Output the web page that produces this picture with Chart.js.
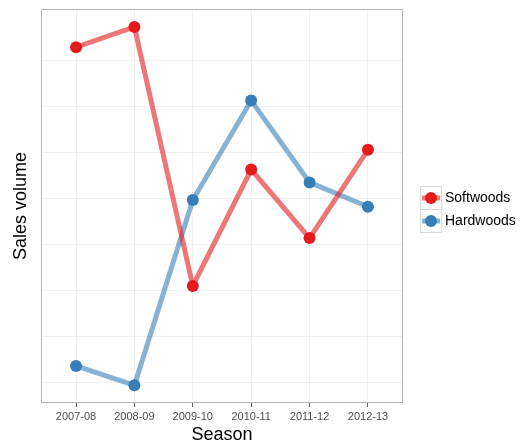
<!DOCTYPE html>
<html>
<head>
<meta charset="utf-8">
<script src="https://cdn.jsdelivr.net/npm/chart.js@4.4.1/dist/chart.umd.min.js"></script>
<style>
  body { margin: 0; background: #fff; }
  #wrap { width: 520px; height: 446px; }
</style>
</head>
<body>
<div id="wrap"><canvas id="myChart" width="520" height="446"></canvas></div>
<script>
// DATOS
const seasons = ["2007-08", "2008-09", "2009-10", "2010-11", "2011-12", "2012-13"];
const softwoods = [8.30, 8.74, 3.11, 5.64, 4.15, 6.07];
const hardwoods = [1.37, 0.95, 4.98, 7.14, 5.36, 4.83];
const yGrid = [1, 2, 3, 4, 5, 6, 7, 8];

const rojo = "#e41a1c";
const azul = "#377eb8";

// borde del panel
const panelBorder = {
  id: "panelBorder",
  afterDraw(chart) {
    const { ctx, chartArea: a } = chart;
    ctx.save();
    ctx.strokeStyle = "#b5b5b5";
    ctx.lineWidth = 1;
    ctx.strokeRect(a.left + 0.5, a.top + 0.5, a.right - a.left - 1, a.bottom - a.top - 1);
    ctx.restore();
  },
};

// leyenda estilo ggplot
const leyenda = {
  id: "leyenda",
  afterDraw(chart) {
    const ctx = chart.ctx;
    const x0 = 420, y0 = 186, w = 21, h = 23;
    ctx.save();
    chart.data.datasets.forEach((ds, i) => {
      const y = y0 + i * h;
      ctx.fillStyle = "#ffffff";
      ctx.fillRect(x0, y, w, h);
      ctx.strokeStyle = "#d9d9d9";
      ctx.lineWidth = 1;
      ctx.strokeRect(x0 + 0.5, y + 0.5, w, h);
      const cy = y + h / 2 + 0.5;
      ctx.strokeStyle = ds.borderColor;
      ctx.lineWidth = 5;
      ctx.beginPath();
      ctx.moveTo(x0 + 2, cy);
      ctx.lineTo(x0 + w - 1, cy);
      ctx.stroke();
      ctx.fillStyle = ds.pointBackgroundColor;
      ctx.beginPath();
      ctx.arc(x0 + w / 2 + 0.5, cy, 6, 0, Math.PI * 2);
      ctx.fill();
      ctx.fillStyle = "#000000";
      ctx.font = "14px 'Liberation Sans', Arial, sans-serif";
      ctx.textBaseline = "middle";
      ctx.fillText(ds.label, x0 + w + 4, cy);
    });
    ctx.restore();
  },
};

const data = {
  datasets: [
    {
      label: "Softwoods",
      data: softwoods.map((v, i) => ({ x: i, y: v })),
      borderColor: "rgba(228,26,28,0.6)",
      borderWidth: 5,
      pointBackgroundColor: rojo,
      pointBorderColor: rojo,
      pointRadius: 6,
      pointBorderWidth: 0,
      tension: 0,
    },
    {
      label: "Hardwoods",
      data: hardwoods.map((v, i) => ({ x: i, y: v })),
      borderColor: "rgba(55,126,184,0.6)",
      borderWidth: 5,
      pointBackgroundColor: azul,
      pointBorderColor: azul,
      pointRadius: 6,
      pointBorderWidth: 0,
      tension: 0,
    },
  ],
};

const config = {
  type: "line",
  data: data,
  plugins: [panelBorder, leyenda],
  options: {
    responsive: false,
    animation: false,
    layout: { padding: { left: 0, top: 9, right: 117, bottom: 0 } },
    plugins: {
      legend: { display: false },
      tooltip: { enabled: false },
    },
    scales: {
      x: {
        type: "linear",
        min: -0.6,
        max: seasons.length - 1 + 0.6,
        afterBuildTicks: (scale) => {
          scale.ticks = seasons.map((s, i) => ({ value: i }));
        },
        afterFit: (scale) => {
          scale.height = 43;
        },
        border: { display: false },
        grid: {
          color: "#f0f0f0",
          tickColor: "#666666",
          tickLength: 4,
        },
        ticks: {
          callback: (v) => seasons[v],
          color: "#4d4d4d",
          font: { family: "'Liberation Sans', Arial, sans-serif", size: 11 },
          padding: 3,
          maxRotation: 0,
          autoSkip: false,
        },
        title: {
          display: true,
          text: "Season",
          color: "#000000",
          font: { family: "'Liberation Sans', Arial, sans-serif", size: 18 },
          padding: { top: 0, bottom: 0 },
        },
      },
      y: {
        min: 0.565,
        max: 9.13,
        afterBuildTicks: (scale) => {
          scale.ticks = yGrid.map((v) => ({ value: v }));
        },
        afterFit: (scale) => {
          scale.width = 41;
        },
        border: { display: false },
        grid: {
          color: "#f0f0f0",
          drawTicks: false,
        },
        ticks: { display: false },
        title: {
          display: true,
          text: "Sales volume",
          color: "#000000",
          font: { family: "'Liberation Sans', Arial, sans-serif", size: 18 },
          padding: { top: 10, bottom: 0 },
        },
      },
    },
  },
};

const myChart = new Chart(document.getElementById("myChart"), config);
</script>
</body>
</html>
